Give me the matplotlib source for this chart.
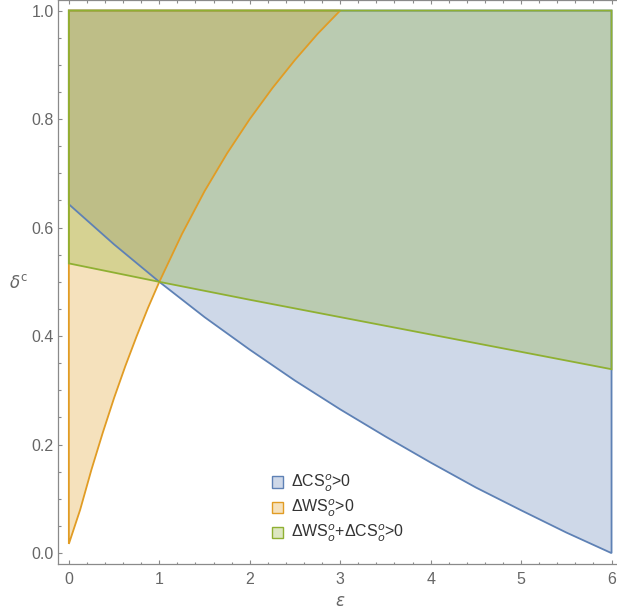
import matplotlib
matplotlib.use("Agg")
import matplotlib.pyplot as plt
from matplotlib.colors import to_rgba
from matplotlib.patches import Patch
from matplotlib.ticker import MultipleLocator

plt.rcParams["font.family"] = ["Liberation Sans", "DejaVu Sans"]
plt.rcParams["mathtext.fontset"] = "dejavusans"

# boundary curves (epsilon -> delta^c)
eps_cs = [0, 0.5, 1, 1.5, 2, 2.5, 3, 3.5, 4, 4.5, 5, 5.5, 6]
delta_cs = [0.643, 0.569, 0.5, 0.435, 0.375, 0.318, 0.265, 0.215,
            0.167, 0.121, 0.079, 0.038, 0.0]

eps_ws = [0, 0.125, 0.25, 0.375, 0.5, 0.625, 0.75, 0.875, 1, 1.25, 1.5,
          1.75, 2, 2.25, 2.5, 2.75, 3.0]
delta_ws = [0.017, 0.08, 0.154, 0.222, 0.286, 0.345, 0.4, 0.452, 0.5,
            0.588, 0.667, 0.737, 0.8, 0.857, 0.909, 0.957, 1.0]

eps_sum = [0, 1, 2, 3, 4, 5, 6]
delta_sum = [0.534, 0.5, 0.467, 0.435, 0.403, 0.371, 0.339]

labels = [r"ΔCS$_o^o$>0", r"ΔWS$_o^o$>0", r"ΔWS$_o^o$+ΔCS$_o^o$>0"]
colors = ["#5E81B5", "#E19C24", "#8FB032"]

x_min, x_max = 0, 6
y_min, y_max = 0, 1

fig = plt.figure(figsize=(6.17, 6.14), dpi=100)
ax = fig.add_axes([58 / 617, 50 / 614, 564.4 / 617, 564.3 / 614])

regions = [
    (eps_cs + [x_max, x_min], delta_cs + [y_max, y_max]),
    (eps_ws + [x_min], delta_ws + [y_max]),
    (eps_sum + [x_max, x_min], delta_sum + [y_max, y_max]),
]
# fills first, then all the boundaries on top of them
for (xs, ys), c in zip(regions, colors):
    ax.fill(xs, ys, facecolor=to_rgba(c, 0.3), edgecolor="none")
for (xs, ys), c in zip(regions, colors):
    ax.fill(xs, ys, facecolor="none", edgecolor=c, lw=1.3)

ax.set_xlim(-0.12, 6.12)
ax.set_ylim(-0.02, 1.02)

ax.xaxis.set_major_locator(MultipleLocator(1))
ax.xaxis.set_minor_locator(MultipleLocator(0.2))
ax.yaxis.set_major_locator(MultipleLocator(0.2))
ax.yaxis.set_minor_locator(MultipleLocator(0.05))
ax.yaxis.set_major_formatter(matplotlib.ticker.FormatStrFormatter("%.1f"))

gray = "#8a8a8a"
for s in ax.spines.values():
    s.set_color(gray)
    s.set_linewidth(0.9)
ax.tick_params(which="both", direction="in", top=True, right=True,
               color=gray, width=0.8)
ax.tick_params(which="major", length=3.2, labelsize=11.5,
               labelcolor="#666666")
ax.tick_params(which="minor", length=1.8)
ax.tick_params(axis="x", pad=6)
ax.tick_params(axis="y", pad=3)

fig.text(340 / 617, 1 - 601 / 614, r"$\epsilon$", color="#666666",
         fontsize=12, ha="center", va="center")
fig.text(19 / 617, 1 - 282 / 614, r"$\delta^{\mathrm{c}}$", color="#666666",
         fontsize=12, ha="center", va="center")

handles = [Patch(facecolor=to_rgba(c, 0.3), edgecolor=c, lw=1) for c in colors]
ax.legend(handles, labels, loc="upper left",
          bbox_to_anchor=(272 / 617, 1 - 473 / 614),
          bbox_transform=fig.transFigure, frameon=False, fontsize=11.5,
          handlelength=0.7, handleheight=0.7, handletextpad=0.5,
          labelspacing=0.25, borderpad=0, borderaxespad=0,
          labelcolor="#333333")

fig.savefig("out.png", dpi=100)
